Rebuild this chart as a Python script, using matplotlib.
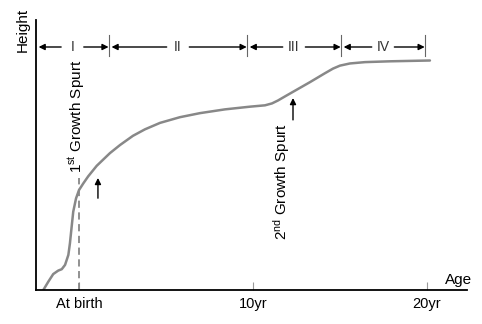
import numpy as np
import matplotlib
matplotlib.use('Agg')
import matplotlib.pyplot as plt

plt.rcParams['font.family'] = ['Liberation Sans', 'DejaVu Sans']
plt.rcParams['mathtext.fontset'] = 'custom'
plt.rcParams['mathtext.rm'] = 'Liberation Sans'
plt.rcParams['mathtext.it'] = 'Liberation Sans'

# growth curve (age in years, height in arbitrary units 0-100)
age = [-2.05, -1.76, -1.48, -1.19, -0.99, -0.80, -0.61, -0.52, -0.42, -0.33,
       -0.17, 0.0, 0.25, 0.53, 1.02, 1.78, 2.36, 3.10, 3.79, 4.66, 5.80,
       6.95, 8.39, 9.83, 10.69, 11.09, 11.44, 11.84, 12.41, 13.28, 14.14,
       14.6, 15.0, 15.57, 16.44, 17.87, 20.17]
height = [0, 3.1, 5.9, 7.2, 7.7, 9.3, 13.0, 17.3, 23.5, 29.0,
          33.9, 37.0, 39.5, 42.1, 46.0, 50.7, 53.7, 57.1, 59.5, 61.9, 64.0,
          65.5, 66.9, 67.9, 68.4, 69.1, 70.2, 71.7, 73.8, 77.0, 80.3,
          82.0, 83.1, 83.9, 84.4, 84.7, 85.0]

tick_pos = [0, 10, 20]
tick_labels = ['At birth', '10yr', '20yr']

# phases along the top
phase_names = ['I', 'II', 'III', 'IV']
phase_edges = [-2.47, 1.72, 9.66, 15.06, 19.89]
phase_y = 90

birth_height = 41.5
spurts = [(1.09, 34, 41.5), (12.3, 63, 71.1)]   # x, arrow start, arrow end

fig = plt.figure(figsize=(4.82, 3.24), dpi=100)
ax = fig.add_axes([36/482, 1 - 290/324, 431/482, 270/324])

ax.plot(age, height, color='#888888', lw=1.8, solid_capstyle='round', solid_joinstyle='round')
ax.plot([0, 0], [0, birth_height], color='#888888', lw=1.3, ls=(0, (4, 2.5)))

ax.set_xlim(-2.47, 22.3)
ax.set_ylim(0, 100)
ax.spines['top'].set_visible(False)
ax.spines['right'].set_visible(False)
for s in ['left', 'bottom']:
    ax.spines[s].set_linewidth(1.3)
ax.set_yticks([])
ax.set_xticks(tick_pos)
ax.set_xticklabels(tick_labels, fontsize=10.5)
ax.tick_params(axis='x', direction='in', length=6, width=0.8, color='#999999', pad=5)

# phase brackets
for i, name in enumerate(phase_names):
    a, b = phase_edges[i], phase_edges[i + 1]
    mid = (a + b) / 2
    gap = 0.65
    ax.text(mid, phase_y, name, ha='center', va='center', fontsize=10, color='#333333')
    for end, start in [(a, mid - gap), (b, mid + gap)]:
        ax.annotate('', xy=(end + (0.15 if end == a else -0.02), phase_y), xytext=(start, phase_y),
                    arrowprops=dict(arrowstyle='-|>', color='black', lw=1,
                                    mutation_scale=9, shrinkA=0, shrinkB=0))
for e in phase_edges[1:]:
    ax.plot([e, e], [86.5, 94.5], color='#666666', lw=0.8)

# growth spurts
for x, y0, y1 in spurts:
    ax.annotate('', xy=(x, y1), xytext=(x, y0),
                arrowprops=dict(arrowstyle='-|>', color='black', lw=1,
                                mutation_scale=9, shrinkA=0, shrinkB=0))
ax.text(-0.11, 43.3, r'1$^{\mathrm{st}}$ Growth Spurt', rotation=90,
        ha='center', va='bottom', fontsize=11)
ax.text(11.67, 18.5, r'2$^{\mathrm{nd}}$ Growth Spurt', rotation=90,
        ha='center', va='bottom', fontsize=11)

ax.text(21.8, 1.1, 'Age', ha='center', va='bottom', fontsize=11)
fig.text(22.5/482, 1 - 30/324, 'Height', rotation=90, ha='center', va='center', fontsize=11)

fig.savefig('out.png', dpi=100)
